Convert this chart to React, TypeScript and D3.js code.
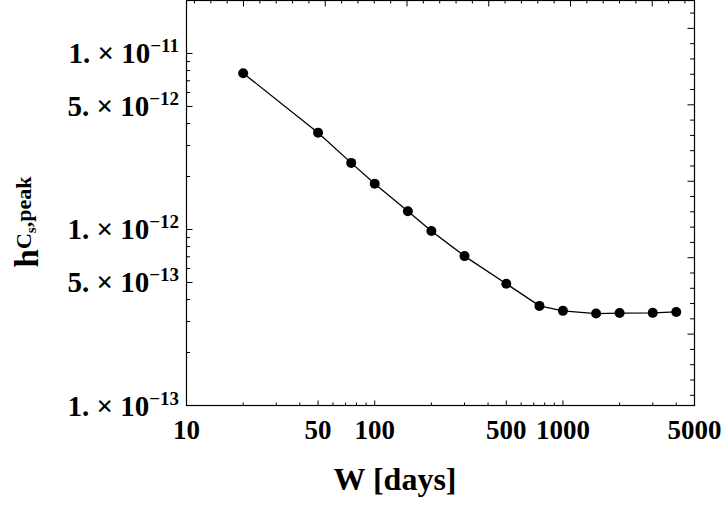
import React from 'react';
import { scaleLog, scaleLinear, line, range } from 'd3';

// window length W [days] and the fitted peak strain
const windowDays = [20, 50, 75, 100, 150, 200, 300, 500, 750, 1000, 1500, 2000, 3000, 4000];
const hPeak = [
  7.73e-12, 3.55e-12, 2.39e-12, 1.82e-12, 1.27e-12, 9.8e-13, 7.06e-13,
  4.92e-13, 3.68e-13, 3.45e-13, 3.33e-13, 3.35e-13, 3.36e-13, 3.4e-13
];

const xTickLabels = [10, 50, 100, 500, 1000, 5000];
const yTickLabels = [1e-11, 5e-12, 1e-12, 5e-13, 1e-13];

const W = 725;
const H = 507;
const left = 186.5;
const right = 694.5;
const top = 0.5;
const bottom = 405.5;
const font = '"Liberation Serif", "Times New Roman", serif';

const App = () => {
  const x = scaleLog().domain([10, 5000]).range([left, right]);
  const y = scaleLog().domain([1e-13, 2e-11]).range([bottom, top]);

  // top / right frame ticks are in natural-log units
  const lnX = scaleLinear().domain([Math.log(10), Math.log(5000)]).range([left, right]);
  const lnY = scaleLinear().domain([Math.log(1e-13), Math.log(2e-11)]).range([bottom, top]);
  const lnTicks = (s) => {
    const [a, b] = s.domain();
    return range(Math.ceil(a * 5), Math.floor(b * 5) + 1).map(i => ({ v: i / 5, major: i % 5 === 0 }));
  };

  const pts = windowDays.map((d, i) => [d, hPeak[i]]);
  const path = line()
    .x(d => x(d[0]))
    .y(d => y(d[1]))(pts);

  const isLabeledX = (v) => xTickLabels.some(t => Math.abs(t - v) < 1e-6);
  const isLabeledY = (v) => yTickLabels.some(t => Math.abs(t - v) / t < 1e-6);

  const splitExp = (v) => {
    const e = Math.floor(Math.log10(v) + 1e-9);
    const m = Math.round(v / Math.pow(10, e));
    return { m, e };
  };

  return (
    <svg width={W} height={H} style={{ position: 'absolute', left: 0, top: 0 }} fontFamily={font}>
      <rect width={W} height={H} fill="#fff" />

      {/* bottom ticks */}
      {x.ticks().map((v, i) => (
        <line key={'bx' + i} x1={x(v)} x2={x(v)} y1={bottom} y2={bottom - (isLabeledX(v) ? 5 : 3)} stroke="#000" strokeWidth={1} />
      ))}
      {/* left ticks */}
      {y.ticks().map((v, i) => (
        <line key={'ly' + i} x1={left} x2={left + (isLabeledY(v) ? 6 : 3.5)} y1={y(v)} y2={y(v)} stroke="#000" strokeWidth={1} />
      ))}
      {/* top ticks */}
      {lnTicks(lnX).map((t, i) => (
        <line key={'tx' + i} x1={lnX(t.v)} x2={lnX(t.v)} y1={top} y2={top + (t.major ? 6 : 3)} stroke="#000" strokeWidth={1} />
      ))}
      {/* right ticks */}
      {lnTicks(lnY).map((t, i) => (
        <line key={'ry' + i} x1={right} x2={right - (t.major ? 7 : 4.5)} y1={lnY(t.v)} y2={lnY(t.v)} stroke="#000" strokeWidth={1} />
      ))}

      <rect x={left} y={top} width={right - left} height={bottom - top} fill="none" stroke="#000" strokeWidth={1.2} />

      {/* x tick labels */}
      {xTickLabels.map(v => (
        <text key={'xl' + v} x={x(v)} y={439} textAnchor="middle" fontSize={27} fontWeight="bold">{v}</text>
      ))}
      {/* y tick labels */}
      {yTickLabels.map(v => {
        const { m, e } = splitExp(v);
        return (
          <text key={'yl' + v} x={179} y={y(v) + 10} textAnchor="end" fontSize={29} fontWeight="bold">
            <tspan>{m + '. \u00d7 10'}</tspan>
            <tspan dy={-11} fontSize={19}>{'\u2212' + Math.abs(e)}</tspan>
          </text>
        );
      })}

      <path d={path} fill="none" stroke="#000" strokeWidth={1.3} />
      {pts.map((d, i) => (
        <circle key={'p' + i} cx={x(d[0])} cy={y(d[1])} r={5} fill="#000" />
      ))}

      <text x={395} y={490} textAnchor="middle" fontSize={32} fontWeight="bold">W [days]</text>
      <text transform="translate(38,222) rotate(-90)" textAnchor="middle" fontSize={33} fontWeight="bold">
        <tspan>h</tspan>
        <tspan dy={-7} fontSize={22}>C</tspan>
        <tspan dy={5} fontSize={15}>s</tspan>
        <tspan dy={-5} fontSize={22}>,peak</tspan>
      </text>
    </svg>
  );
};

export default App;
